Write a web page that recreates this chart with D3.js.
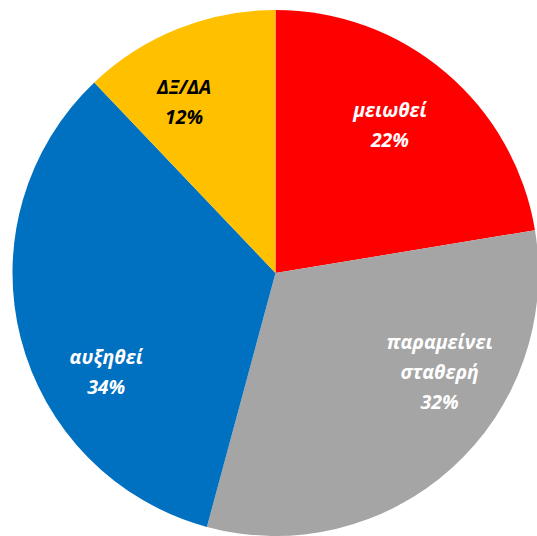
<!DOCTYPE html>
<html lang="el">
<head>
<meta charset="UTF-8">
<title>Pie</title>
<style>
  body { margin: 0; background: #fff; }
  svg { display: block; }
  .lbl { font-family: "Open Sans", "Liberation Sans", sans-serif; font-weight: bold; font-style: italic; font-size: 19.5px; }
</style>
</head>
<body>
<svg id="chart" width="537" height="536"></svg>
<script src="https://d3js.org/d3.v7.min.js"></script>
<script>
// data
var categories = ["μειωθεί", "παραμείνει σταθερή", "αυξηθεί", "ΔΞ/ΔΑ"];
var values = [22.4, 31.8, 33.7, 12.1];
var colors = ["#FF0000", "#A5A5A5", "#0070C0", "#FFC000"];
var textColors = ["#fff", "#fff", "#fff", "#000"];
var labelLines = [["μειωθεί"], ["παραμείνει", "σταθερή"], ["αυξηθεί"], ["ΔΞ/ΔΑ"]];

var svg = d3.select("#chart");
var cx = 275.5, cy = 273, r = 263;

var g = svg.append("g").attr("transform", "translate(" + cx + "," + cy + ")");

var pie = d3.pie().sort(null).value(d => d);
var arcs = pie(values);

var arc = d3.arc().innerRadius(0).outerRadius(r);

g.selectAll("path")
  .data(arcs)
  .enter()
  .append("path")
  .attr("d", arc)
  .attr("fill", (d, i) => colors[i]);

// excel "best fit" labels: nudge the angle and distance a bit
var nudge = [[-0.045, 187], [-0.29, 192], [-0.28, 196], [-0.11, 194]];
var lineH = 30;

arcs.forEach(function(d, i) {
  var a = (d.startAngle + d.endAngle) / 2 + nudge[i][0];
  var dist = nudge[i][1];
  var x = Math.sin(a) * dist, y = -Math.cos(a) * dist;
  var lines = labelLines[i].concat([Math.round(values[i]) + "%"]);
  var t = g.append("text")
    .attr("class", "lbl")
    .attr("text-anchor", "middle")
    .attr("fill", textColors[i]);
  lines.forEach(function(s, k) {
    t.append("tspan")
      .attr("x", x)
      .attr("y", y + (k - (lines.length - 1) / 2) * lineH)
      .attr("dy", "0.35em")
      .text(s);
  });
});
</script>
</body>
</html>
